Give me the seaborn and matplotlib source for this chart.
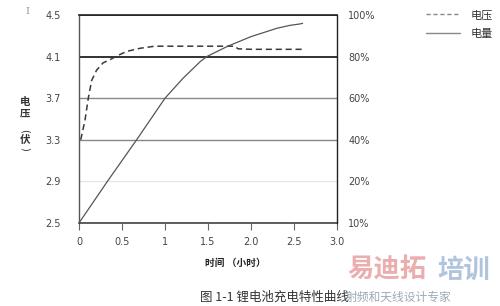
import matplotlib
matplotlib.use("Agg")
import matplotlib.pyplot as plt
import seaborn as sns
import pandas as pd
from matplotlib.lines import Line2D

# ---- data ----
volt_time = [0.02, 0.07, 0.108, 0.147, 0.205, 0.28, 0.36, 0.45, 0.555, 0.71, 0.88, 1.2, 1.5, 1.81, 1.85, 2.0, 2.3, 2.59]
volt_value = [3.30, 3.49, 3.70, 3.87, 3.97, 4.04, 4.07, 4.11, 4.15, 4.18, 4.20, 4.20, 4.20, 4.20, 4.175, 4.17, 4.17, 4.17]
charge_time = [0.0, 0.33, 0.67, 1.0, 1.21, 1.41, 1.485, 1.73, 2.0, 2.3, 2.45, 2.57, 2.6]
charge_value = [0.0, 20.0, 40.0, 60.0, 69.6, 77.6, 80.0, 85.0, 89.6, 93.6, 95.0, 95.7, 96.0]
x_ticks = [0, 0.5, 1, 1.5, 2.0, 2.5, 3.0]
x_tick_labels = ["0", "0.5", "1", "1.5", "2.0", "2.5", "3.0"]
v_ticks = [2.5, 2.9, 3.3, 3.7, 4.1, 4.5]
v_tick_labels = ["2.5", "2.9", "3.3", "3.7", "4.1", "4.5"]
c_ticks = [0, 20, 40, 60, 80, 100]
c_tick_labels = ["10%", "20%", "40%", "60%", "80%", "100%"]
legend_labels = ["电压", "电量"]

sns.set_style("white")
plt.rcParams['font.family'] = ['DejaVu Sans', 'Noto Sans CJK SC']
CJK = ['Noto Sans CJK SC', 'DejaVu Sans']

W, H = 500, 306
fig = plt.figure(figsize=(W / 100, H / 100), dpi=100)
ax = fig.add_axes([79 / W, 1 - 223 / H, (337 - 79) / W, (223 - 15) / H])
ax2 = ax.twinx()

dv = pd.DataFrame({"t": volt_time, "v": volt_value})
dc = pd.DataFrame({"t": charge_time, "c": charge_value})

line_col = "#3a3a3a"
sns.lineplot(data=dv, x="t", y="v", ax=ax, color=line_col, lw=1.1,
             linestyle=(0, (4, 2.5)), sort=False)
sns.lineplot(data=dc, x="t", y="c", ax=ax2, color="#555555", lw=0.9, sort=False)

ax.set_xlim(0, 3.0)
ax.set_ylim(2.5, 4.5)
ax2.set_ylim(0, 100)
ax.set_xticks(x_ticks)
ax.set_xticklabels(x_tick_labels)
ax.set_yticks(v_ticks)
ax.set_yticklabels(v_tick_labels)
ax2.set_yticks(c_ticks)
ax2.set_yticklabels(c_tick_labels)
ax.set_xlabel("")
ax.set_ylabel("")
ax2.set_ylabel("")

tick_col = "#444444"
ax.tick_params(axis="x", direction="out", length=5, width=0.8, color="#666666",
               pad=5, labelsize=7, labelcolor=tick_col, bottom=True)
ax.tick_params(axis="y", length=0, pad=13, labelsize=7, labelcolor=tick_col)
ax2.tick_params(axis="y", length=0, pad=8, labelsize=7, labelcolor=tick_col)

# gridlines at voltage levels
ax.yaxis.grid(True)
ax.xaxis.grid(False)
grid_styles = {2.5: ("#444444", 1.0), 2.9: ("#e6e6e6", 1.0), 3.3: ("#888888", 1.0),
               3.7: ("#888888", 1.0), 4.1: ("#222222", 1.3), 4.5: ("#222222", 1.2)}
for gl, v in zip(ax.get_ygridlines(), v_ticks):
    c, w = grid_styles[v]
    gl.set_color(c)
    gl.set_linewidth(w)
    gl.set_linestyle("-")

for a in (ax, ax2):
    for s in a.spines.values():
        s.set_visible(False)
ax.spines["left"].set_visible(True)
ax.spines["left"].set_color("#555555")
ax.spines["left"].set_linewidth(1.0)
ax.spines["bottom"].set_visible(True)
ax.spines["bottom"].set_color("#444444")
ax.spines["bottom"].set_linewidth(1.2)
ax2.spines["right"].set_visible(True)
ax2.spines["right"].set_color("#222222")
ax2.spines["right"].set_linewidth(1.0)
ax2.spines["top"].set_visible(True)
ax2.spines["top"].set_color("#222222")
ax2.spines["top"].set_linewidth(1.2)

# legend
handles = [Line2D([], [], color="#888888", lw=1.0, linestyle=(0, (3, 2))),
           Line2D([], [], color="#888888", lw=1.0)]
leg = fig.legend(handles, legend_labels, loc="upper left",
                 bbox_to_anchor=(416 / W, 1 - 0 / H), frameon=False,
                 prop={"family": CJK, "size": 8}, handlelength=3.1,
                 handletextpad=0.9, labelspacing=0.75)
for t in leg.get_texts():
    t.set_color("#333333")

# vertical y label
for ch, yy in [("电", 102), ("压", 113), ("伏", 140)]:
    fig.text(25 / W, 1 - yy / H, ch, ha="center", va="center",
             family=CJK, fontsize=7.5, color="#333333", fontweight="bold")
for ch, yy in [("(", 131), (")", 149)]:
    fig.text(25 / W, 1 - yy / H, ch, ha="center", va="center", rotation=-90,
             family="DejaVu Sans", fontsize=7, color="#333333")

# x label
fig.text(235 / W, 1 - 263 / H, "时间 （小时）", ha="center", va="center",
         family=CJK, fontsize=7, color="#222222", fontweight="bold")

# caption
fig.text(200 / W, 1 - 297 / H, "图 1-1 锂电池充电特性曲线", ha="left", va="center",
         family=CJK, fontsize=9, color="#333333")

# watermark
fig.text(347 / W, 1 - 270 / H, "易迪拓", ha="left", va="center", family=CJK,
         fontsize=19, fontweight="bold", color="#e9a4a4", alpha=0.9)
fig.text(437 / W, 1 - 270 / H, "培训", ha="left", va="center", family=CJK,
         fontsize=19, fontweight="bold", color="#a9bedb", alpha=0.9)
fig.text(346 / W, 1 - 297 / H, "射频和天线设计专家", ha="left", va="center",
         family=CJK, fontsize=8.5, color="#8c9aab", alpha=0.85)

# cursor mark
fig.text(27 / W, 1 - 12 / H, "I", ha="center", va="center",
         family="DejaVu Serif", fontsize=7, color="#999999")

fig.savefig("out.png", dpi=100)
